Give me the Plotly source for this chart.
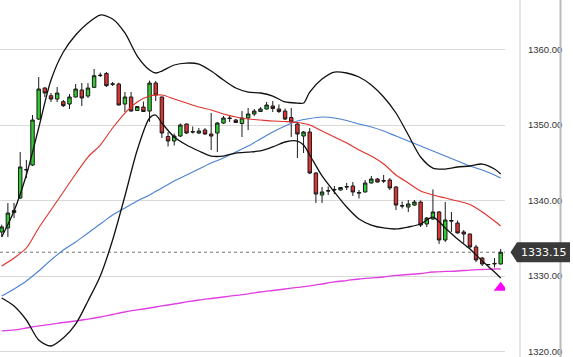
import plotly.graph_objects as go

# ---------------- data ----------------
IDX = list(range(82))
OPEN = [1335.83, 1336.36, 1338.41, 1340.33, 1344.04, 1344.70, 1350.79, 1354.90, 1353.88, 1353.44,
        1353.09, 1352.78, 1353.71, 1354.64, 1353.84, 1354.99, 1356.62, 1356.82, 1355.45, 1355.43,
        1352.78, 1353.71, 1351.92, 1352.38, 1351.85, 1355.56, 1353.71, 1348.48, 1347.88, 1348.54,
        1350.13, 1349.14, 1348.94, 1349.34, 1348.81, 1348.94, 1350.26, 1350.93, 1350.66, 1350.20,
        1350.93, 1351.46, 1351.79, 1352.12, 1352.52, 1352.12, 1351.85, 1350.99, 1350.13, 1348.54,
        1349.07, 1343.64, 1340.73, 1341.32, 1341.39, 1341.39, 1341.85, 1341.92, 1341.06, 1341.13,
        1342.32, 1342.85, 1342.65, 1342.72, 1341.79, 1339.34, 1339.14, 1339.40, 1339.80, 1336.89,
        1337.55, 1338.48, 1334.77, 1337.35, 1337.02, 1335.83, 1335.56, 1333.84, 1332.38, 1331.52,
        1331.59, 1331.59]
HIGH = [1336.80, 1339.67, 1339.67, 1346.42, 1345.36, 1351.32, 1356.36, 1355.03, 1354.24, 1355.03,
        1353.31, 1354.11, 1355.43, 1355.56, 1355.56, 1357.42, 1356.95, 1357.02, 1355.70, 1355.60,
        1354.37, 1354.37, 1352.50, 1353.11, 1355.89, 1355.83, 1353.77, 1349.07, 1348.87, 1350.20,
        1350.20, 1349.80, 1349.60, 1349.60, 1351.59, 1350.40, 1351.19, 1351.32, 1350.80, 1351.85,
        1352.25, 1352.12, 1352.38, 1353.05, 1353.18, 1352.72, 1352.19, 1352.25, 1350.33, 1349.20,
        1349.60, 1343.77, 1341.79, 1341.85, 1341.92, 1341.79, 1342.32, 1342.45, 1341.39, 1342.72,
        1343.25, 1342.98, 1343.38, 1342.98, 1341.92, 1339.87, 1340.07, 1340.07, 1340.00, 1337.81,
        1341.46, 1338.61, 1339.80, 1338.48, 1337.35, 1336.09, 1335.63, 1334.11, 1332.52, 1331.55,
        1332.38, 1333.58]
LOW = [1335.20, 1335.17, 1337.68, 1340.20, 1342.98, 1344.57, 1350.66, 1353.71, 1353.05, 1353.05,
       1352.38, 1352.12, 1353.64, 1352.52, 1353.58, 1354.90, 1356.36, 1355.03, 1355.17, 1352.60,
       1351.72, 1351.80, 1351.85, 1351.72, 1350.40, 1353.18, 1348.28, 1347.15, 1347.28, 1348.41,
       1348.81, 1348.87, 1348.80, 1348.68, 1346.69, 1346.42, 1350.13, 1350.40, 1350.26, 1348.41,
       1349.34, 1351.19, 1351.72, 1352.05, 1351.72, 1351.59, 1350.66, 1348.41, 1345.63, 1346.29,
       1343.50, 1339.67, 1339.67, 1340.73, 1340.86, 1341.32, 1341.39, 1340.60, 1340.26, 1341.06,
       1342.25, 1342.38, 1342.32, 1341.39, 1338.74, 1338.94, 1338.48, 1339.27, 1336.49, 1336.49,
       1337.42, 1334.24, 1334.50, 1335.83, 1335.63, 1334.37, 1333.64, 1331.85, 1331.32, 1331.48,
       1331.13, 1331.52]
CLOSE = [1336.50, 1338.34, 1338.68, 1344.44, 1344.10, 1350.66, 1354.77, 1354.24, 1353.44, 1354.24,
         1352.56, 1353.71, 1354.77, 1353.58, 1354.90, 1356.53, 1356.55, 1355.21, 1355.40, 1352.65,
         1353.71, 1351.85, 1352.45, 1351.79, 1355.56, 1353.97, 1348.94, 1347.88, 1348.54, 1350.00,
         1348.94, 1349.07, 1349.20, 1348.81, 1348.54, 1350.26, 1350.93, 1350.86, 1350.33, 1350.93,
         1351.46, 1351.85, 1352.12, 1352.65, 1352.19, 1351.79, 1350.79, 1350.40, 1348.81, 1349.07,
         1343.64, 1340.86, 1341.13, 1341.26, 1341.46, 1341.72, 1341.79, 1341.13, 1340.99, 1342.32,
         1342.85, 1342.45, 1342.58, 1341.66, 1339.40, 1339.27, 1339.54, 1339.80, 1336.75, 1337.68,
         1338.48, 1334.77, 1337.42, 1337.28, 1335.70, 1335.56, 1333.84, 1332.12, 1331.59, 1331.50,
         1331.66, 1333.15]

BB_IDX = [0, 2, 4, 6, 8, 10, 12, 14, 16, 18, 20, 22, 24, 25, 26, 28, 30, 32, 34, 36, 38, 40, 42,
          44, 46, 48, 49, 50, 52, 54, 56, 58, 60, 62, 64, 66, 68, 70, 72, 74, 76, 78, 80, 81]
BB_UPPER = [1335.17, 1338.61, 1343.38, 1349.60, 1355.96, 1359.67, 1361.92, 1363.51, 1364.57, 1364.04,
            1362.19, 1359.14, 1357.28, 1356.89, 1357.15, 1357.95, 1358.21, 1358.08, 1357.15, 1355.96,
            1354.90, 1354.37, 1354.24, 1353.84, 1353.05, 1352.91, 1352.91, 1354.37, 1356.09, 1357.02,
            1356.89, 1356.36, 1355.30, 1353.71, 1351.59, 1348.68, 1345.76, 1344.30, 1344.17, 1344.44,
            1344.57, 1344.83, 1344.17, 1343.51]
BB_LOWER = [1327.09, 1326.03, 1324.17, 1321.52, 1320.73, 1321.79, 1323.64, 1326.69, 1330.00, 1334.77,
            1340.60, 1346.69, 1350.93, 1351.32, 1350.26, 1348.41, 1347.35, 1346.56, 1345.89, 1345.89,
            1346.29, 1346.42, 1346.56, 1347.09, 1347.75, 1347.88, 1347.35, 1346.03, 1343.25, 1341.13,
            1339.14, 1337.55, 1336.75, 1336.36, 1336.23, 1336.49, 1336.89, 1337.81, 1336.36, 1334.90,
            1333.58, 1331.99, 1330.53, 1329.74]

MA_IDX = list(range(0, 81, 2)) + [81]
MA20 = [1331.32, 1332.38, 1333.71, 1336.36, 1338.74, 1341.13, 1343.51, 1345.76, 1347.35, 1349.60,
        1351.59, 1353.05, 1353.84, 1353.97, 1353.44, 1352.91, 1352.38, 1351.99, 1351.46, 1351.06,
        1350.79, 1350.66, 1350.53, 1350.46, 1350.33, 1350.00, 1349.21, 1348.41, 1347.62, 1346.69,
        1345.89, 1344.83, 1343.38, 1342.32, 1341.26, 1340.73, 1340.33, 1339.93, 1339.47, 1338.48,
        1337.28, 1336.62]
MA50 = [1327.35, 1328.28, 1329.34, 1330.66, 1332.12, 1333.44, 1334.50, 1335.70, 1336.89, 1338.08,
        1339.01, 1339.93, 1340.73, 1341.66, 1342.58, 1343.38, 1344.17, 1344.97, 1345.63, 1346.42,
        1347.22, 1348.15, 1349.07, 1349.87, 1350.53, 1350.86, 1351.06, 1350.93, 1350.60, 1350.13,
        1349.74, 1349.21, 1348.54, 1347.88, 1347.22, 1346.56, 1345.89, 1345.23, 1344.57, 1344.04,
        1343.38, 1342.98]
MA200 = [1322.72, 1322.85, 1323.11, 1323.38, 1323.58, 1323.84, 1324.04, 1324.30, 1324.57, 1324.90,
         1325.23, 1325.50, 1325.76, 1326.03, 1326.29, 1326.56, 1326.82, 1327.02, 1327.22, 1327.42,
         1327.62, 1327.88, 1328.08, 1328.28, 1328.48, 1328.68, 1328.94, 1329.21, 1329.40, 1329.60,
         1329.74, 1329.87, 1330.07, 1330.20, 1330.33, 1330.53, 1330.60, 1330.66, 1330.79, 1330.86,
         1330.93, 1330.93]

SIGNAL_IDX = [81]
SIGNAL_VAL = [1328.45]

Y_TICKS = [1320, 1330, 1340, 1350, 1360]
Y_TICK_TEXT = ["1320.00", "1330.00", "1340.00", "1350.00", "1360.00"]
LAST_PRICE = CLOSE[-1]

# ---------------- figure ----------------
fig = go.Figure()

fig.add_trace(go.Candlestick(
    x=IDX, open=OPEN, high=HIGH, low=LOW, close=CLOSE,
    increasing=dict(line=dict(color="#1a1a1a", width=1), fillcolor="#33cc33"),
    decreasing=dict(line=dict(color="#1a1a1a", width=1), fillcolor="#dd3333"),
    whiskerwidth=0, showlegend=False, hoverinfo="skip"))

def add_line(x, y, color, width, smooth=0.8):
    fig.add_trace(go.Scatter(x=x, y=y, mode="lines",
                             line=dict(color=color, width=width, shape="spline", smoothing=smooth),
                             showlegend=False, hoverinfo="skip"))

add_line(MA_IDX, MA200, "#e040e0", 1.3)
add_line(MA_IDX, MA50, "#4a80d4", 1.1)
add_line(MA_IDX, MA20, "#e0302a", 1.1)
add_line(BB_IDX, BB_UPPER, "#111111", 1.3)
add_line(BB_IDX, BB_LOWER, "#111111", 1.3)

fig.add_trace(go.Scatter(x=SIGNAL_IDX, y=SIGNAL_VAL, mode="markers",
                         marker=dict(symbol="triangle-up", size=12, color="#ff00ff"),
                         showlegend=False, hoverinfo="skip"))

W, H = 573, 357
PLOT_W = 505
def px(xp):
    return xp / PLOT_W

shapes = []
# last price dotted line
shapes.append(dict(type="line", xref="paper", yref="y", x0=0, x1=1, y0=LAST_PRICE, y1=LAST_PRICE,
                   line=dict(color="#777777", width=1, dash="dot"), layer="below"))
# separator lines of the price scale
shapes.append(dict(type="line", xref="paper", yref="paper", x0=px(520), x1=px(520), y0=0, y1=1,
                   line=dict(color="#cccccc", width=1)))
shapes.append(dict(type="line", xref="paper", yref="paper", x0=px(560.5), x1=px(560.5), y0=0, y1=1,
                   line=dict(color="#bbbbbb", width=2)))
# price tag
h = 1.32
tip, bx, rx = px(510.5), px(517), px(570)
shapes.append(dict(type="path", xref="paper", yref="y",
                   path=f"M {tip},{LAST_PRICE} L {bx},{LAST_PRICE + h} L {rx},{LAST_PRICE + h} "
                        f"L {rx},{LAST_PRICE - h} L {bx},{LAST_PRICE - h} Z",
                   fillcolor="#3a3a3a", line=dict(width=0)))

fig.update_layout(
    width=W, height=H,
    margin=dict(l=0, r=W - PLOT_W, t=0, b=0),
    paper_bgcolor="white", plot_bgcolor="white",
    shapes=shapes,
    annotations=[dict(xref="paper", yref="y", x=px(543.5), y=LAST_PRICE, text=f"{LAST_PRICE:.2f}",
                      xanchor="center", yanchor="middle",
                      showarrow=False, font=dict(family="DejaVu Sans", size=11, color="white"))],
    xaxis=dict(range=[-0.28, 81.7], showgrid=False, showticklabels=False, zeroline=False,
               rangeslider=dict(visible=False), showline=False, fixedrange=True),
    yaxis=dict(range=[1319.27, 1366.56], side="right", tickvals=Y_TICKS, ticktext=Y_TICK_TEXT,
               showgrid=True, gridcolor="#d9d9d9", gridwidth=1, zeroline=False,
               ticks="", ticklabelstandoff=22,
               tickfont=dict(family="Liberation Sans", size=9.5, color="#333333")),
    boxgap=0.2,
)

fig.write_html("out.html", config={"displayModeBar": False},
               post_script="document.body.style.margin='0px';document.body.style.overflow='hidden';")
